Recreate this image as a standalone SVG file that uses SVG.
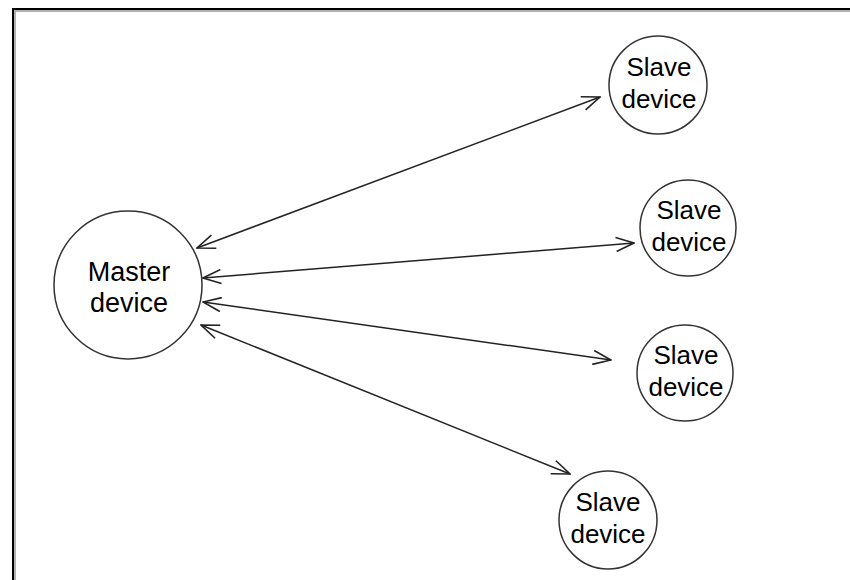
<svg xmlns="http://www.w3.org/2000/svg" width="850" height="580" viewBox="0 0 850 580">
  <style>
    .node circle { fill: #ffffff; stroke: #333333; stroke-width: 1.5; }
    .node text { font-family: "Liberation Sans", Arial, sans-serif; font-size: 26px; fill: #000000; text-anchor: middle; }
    #master text { font-size: 27px; }
    .link { stroke: #222222; stroke-width: 1.5; fill: none; marker-start: url(#arrow); marker-end: url(#arrow); }
  </style>
  <defs>
    <marker id="arrow" viewBox="0 0 20 16" refX="19" refY="8" markerWidth="20" markerHeight="16" markerUnits="userSpaceOnUse" orient="auto-start-reverse">
      <path d="M1,1 L19,8 L1,15" fill="none" stroke="#222222" stroke-width="1.6"/>
    </marker>
  </defs>
  <rect width="850" height="580" fill="#ffffff"/>

  <!-- frame -->
  <g id="frame" fill="none">
    <path d="M15,580 V11 H850" stroke="#999999" stroke-width="1.5"/>
    <path d="M13,580 V9 H850" stroke="#000000" stroke-width="2"/>
  </g>

  <!-- connectors -->
  <g id="connectors">
    <line class="link" x1="197" y1="248" x2="600" y2="97"/>
    <line class="link" x1="203" y1="278" x2="634" y2="243"/>
    <line class="link" x1="203" y1="302" x2="611" y2="360"/>
    <line class="link" x1="201" y1="325" x2="570" y2="474"/>
  </g>

  <g id="master" class="node">
    <circle cx="128" cy="285" r="74"/>
    <text x="129" y="281">Master</text>
    <text x="129" y="312">device</text>
  </g>

  <g id="slave1" class="node">
    <circle cx="658" cy="85" r="49"/>
    <text x="659" y="76">Slave</text>
    <text x="659" y="108">device</text>
  </g>

  <g id="slave2" class="node">
    <circle cx="688" cy="228" r="48"/>
    <text x="689" y="219">Slave</text>
    <text x="689" y="251">device</text>
  </g>

  <g id="slave3" class="node">
    <circle cx="685" cy="373" r="48"/>
    <text x="686" y="364">Slave</text>
    <text x="686" y="396">device</text>
  </g>

  <g id="slave4" class="node">
    <circle cx="608" cy="520" r="49"/>
    <text x="608" y="511">Slave</text>
    <text x="608" y="543">device</text>
  </g>
</svg>
